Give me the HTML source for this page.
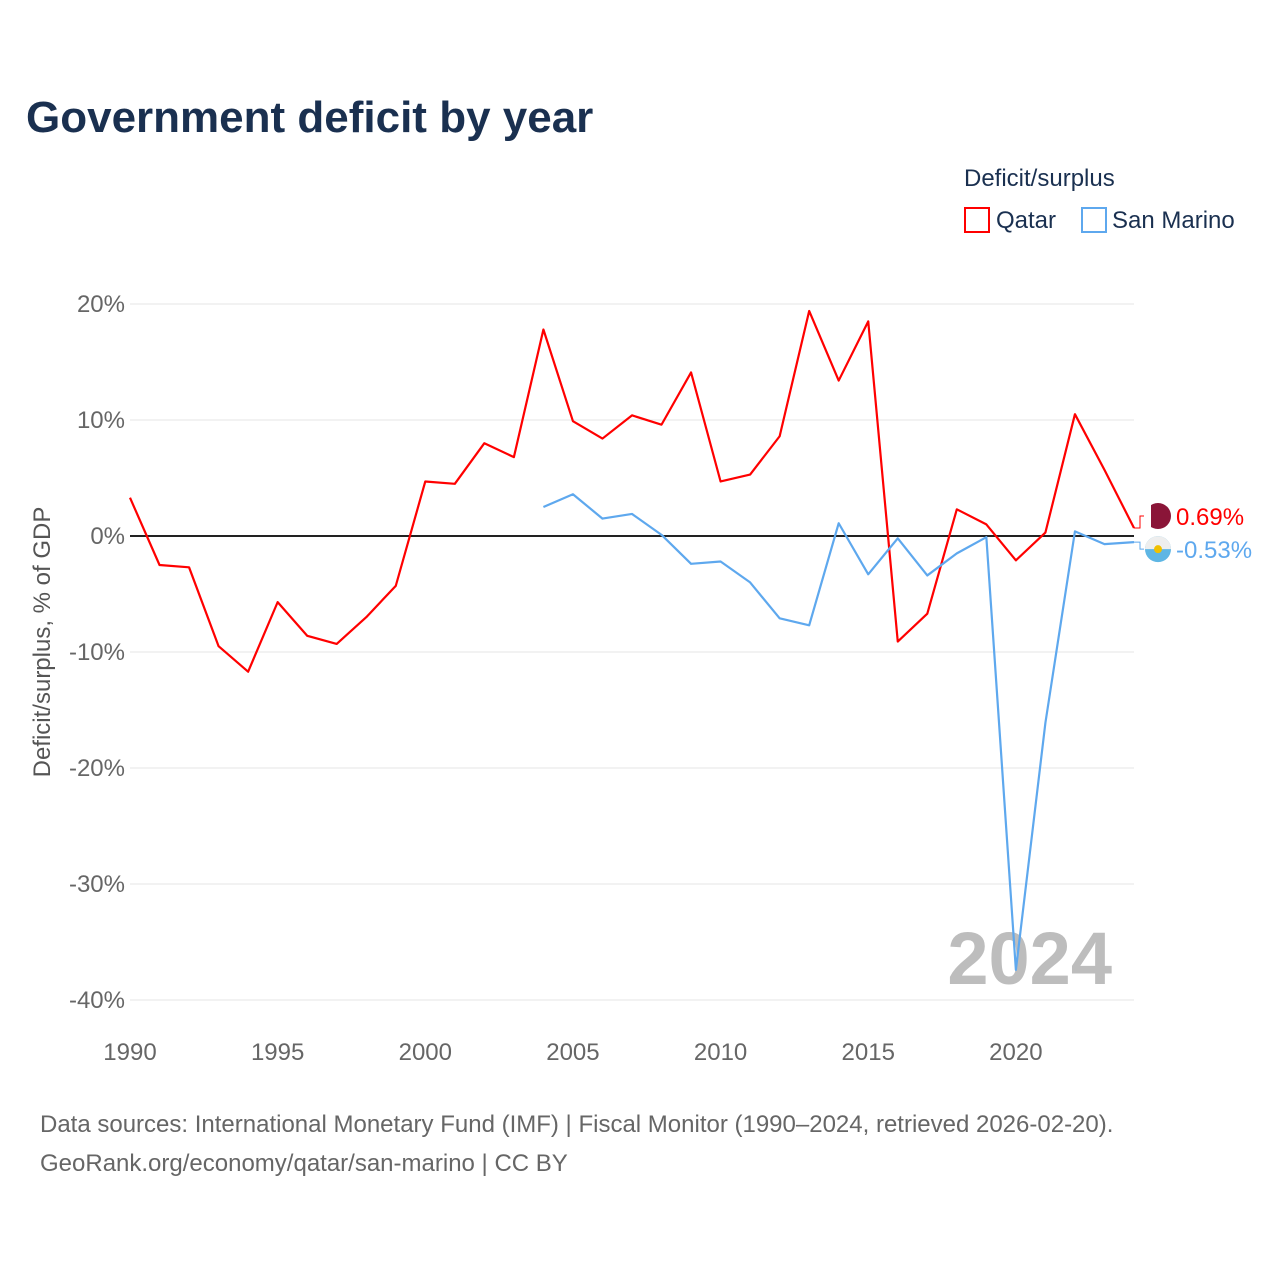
<!DOCTYPE html>
<html><head><meta charset="utf-8"><style>
body{margin:0;background:#fff;font-family:"Liberation Sans",sans-serif;}
</style></head><body>
<svg id="chart" width="1280" height="1280" xmlns="http://www.w3.org/2000/svg">
<rect width="1280" height="1280" fill="#fff"/>
<text x="26" y="132" font-size="44" font-weight="bold" fill="#1a3050">Government deficit by year</text>
<text x="964" y="186" font-size="24" fill="#1a3050">Deficit/surplus</text>
<g><rect x="965" y="208" width="24" height="24" fill="none" stroke="#f00" stroke-width="2"/><text x="996" y="228" font-size="24" fill="#1a3050">Qatar</text></g>
<g><rect x="1082" y="208" width="24" height="24" fill="none" stroke="#5ea8ee" stroke-width="2"/><text x="1112" y="228" font-size="24" fill="#1a3050">San Marino</text></g>
<g id="grid"></g><g id="yticks"></g><g id="xticks"></g>
<text x="1112" y="984" font-size="74" font-weight="bold" fill="#bdbdbd" text-anchor="end">2024</text>
<g id="series"></g>
<text transform="translate(50,642) rotate(-90)" font-size="24" fill="#555" text-anchor="middle">Deficit/surplus, % of GDP</text>
<text x="40" y="1132" font-size="24" fill="#666">Data sources: International Monetary Fund (IMF) | Fiscal Monitor (1990–2024, retrieved 2026-02-20).</text>
<text x="40" y="1171" font-size="24" fill="#666">GeoRank.org/economy/qatar/san-marino | CC BY</text>
</svg>
<script>
const years=[];for(let y=1990;y<=2024;y++)years.push(y);
const qatar=[3.3,-2.5,-2.7,-9.5,-11.7,-5.7,-8.6,-9.3,-7.0,-4.3,4.7,4.5,8.0,6.8,17.8,9.9,8.4,10.4,9.6,14.1,4.7,5.3,8.6,19.4,13.4,18.5,-9.1,-6.7,2.3,1.0,-2.1,0.3,10.5,5.7,0.69];
const smYears=[2004,2005,2006,2007,2008,2009,2010,2011,2012,2013,2014,2015,2016,2017,2018,2019,2020,2021,2022,2023,2024];
const sanMarino=[2.5,3.6,1.5,1.9,0.1,-2.4,-2.2,-4.0,-7.1,-7.7,1.1,-3.3,-0.2,-3.4,-1.5,-0.1,-37.4,-16.1,0.4,-0.7,-0.53];
const yTicks=[20,10,0,-10,-20,-30,-40];
const xTicks=[1990,1995,2000,2005,2010,2015,2020];
const NS="http://www.w3.org/2000/svg";
const xs=y=>130+(y-1990)*(1134-130)/34;
const ys=v=>536-v*11.6;
function mk(t,a,p){const e=document.createElementNS(NS,t);for(const k in a)e.setAttribute(k,a[k]);p.appendChild(e);return e;}
const grid=document.getElementById('grid'),yt=document.getElementById('yticks'),xt=document.getElementById('xticks'),se=document.getElementById('series');
yTicks.forEach(v=>{
 const l=mk('line',{x1:130,x2:1134,y1:ys(v),y2:ys(v),stroke:v===0?'#222':'#e4e4e4','stroke-width':v===0?2:1},grid);
 
 
 const t=mk('text',{x:125,y:ys(v)+8,'font-size':24,fill:'#666','text-anchor':'end'},yt);t.textContent=v+'%';
 
 
});
xTicks.forEach(v=>{
 const t=mk('text',{x:xs(v),y:1060,'font-size':24,fill:'#666','text-anchor':'middle'},xt);t.textContent=v;
 
 
});
function line(xv,vals,color,name){
 const p=mk('polyline',{points:xv.map((y,i)=>xs(y)+','+ys(vals[i])).join(' '),fill:'none',stroke:color,'stroke-width':2.2,'stroke-linejoin':'round'},se);
 
 
}
line(years,qatar,'#f00','qatar-line');
line(smYears,sanMarino,'#5ea8ee','san-marino-line');
const qv=qatar[qatar.length-1],sv=sanMarino[sanMarino.length-1];
const qy=ys(qv)-12,sy=ys(sv)+7;
mk('path',{d:`M1134 ${ys(qv)} h6 V${qy} h4`,stroke:'#f00',fill:'none'},se);
mk('path',{d:`M1134 ${ys(sv)} h6 V${sy} h4`,stroke:'#5ea8ee',fill:'none'},se);
const f1=mk('circle',{cx:1158,cy:qy,r:13,fill:'#8a1538'},se);


mk('rect',{x:1145,y:qy-13,width:6,height:26,fill:'#fff'},se);
const f2=mk('circle',{cx:1158,cy:sy,r:13,fill:'#5eb6e4'},se);


mk('path',{d:`M1145 ${sy} a13 13 0 0 1 26 0 z`,fill:'#eee'},se);
mk('circle',{cx:1158,cy:sy,r:4,fill:'#f0c000'},se);
const l1=mk('text',{x:1176,y:qy+9,'font-size':24,fill:'#f00'},se);l1.textContent=qv.toFixed(2)+'%';


const l2=mk('text',{x:1176,y:sy+9,'font-size':24,fill:'#5ea8ee'},se);l2.textContent=sv.toFixed(2)+'%';


</script>
</body></html>
